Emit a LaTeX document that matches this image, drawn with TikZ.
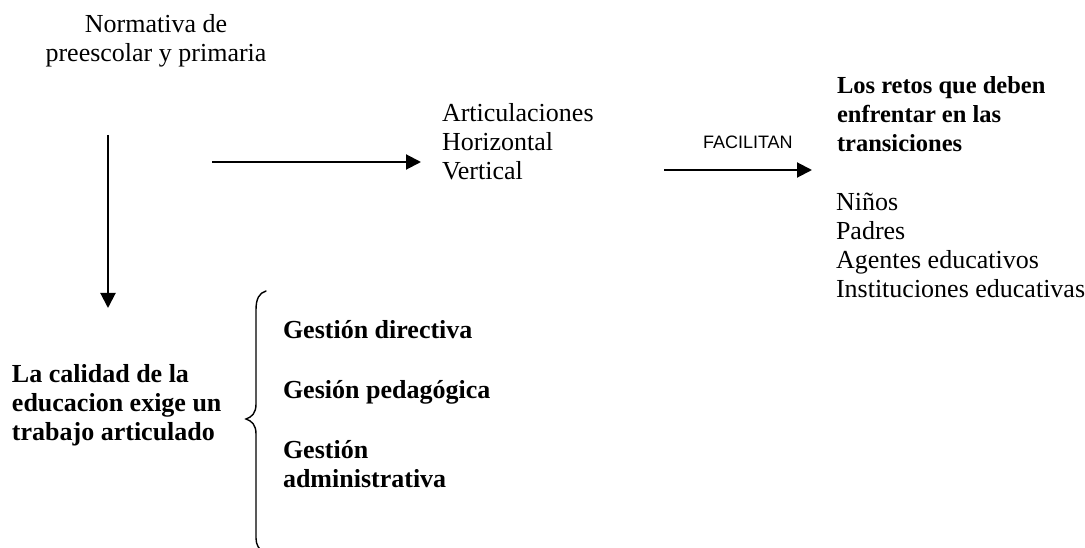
\documentclass[tikz,border=0pt]{standalone}
\usepackage{fontspec}
\setmainfont{Liberation Serif}
\newfontfamily\arialfont{Liberation Sans}
\usetikzlibrary{arrows.meta}
\begin{document}
\begin{tikzpicture}[x=1pt,y=-1pt,
  txt/.style={inner sep=0pt,outer sep=0pt,align=left,anchor=base west,font=\fontsize{26}{29}\selectfont},
  btxt/.style={txt,font=\fontsize{26}{29}\selectfont\bfseries},
  arr/.style={line width=2pt,-{Triangle[length=15pt,width=15pt]}},
  brace/.style={line width=1.4pt,line cap=round}]
\useasboundingbox (0,0) rectangle (1085,548);
% texts (multi-line nodes: base = baseline of last line)
\node[txt,align=center,anchor=base] (norm) at (156,62) {Normativa de\\preescolar y primaria};
\node[txt] (art) at (442,180) {Articulaciones\\Horizontal\\Vertical};
\node[txt,font=\fontsize{18}{21}\arialfont,anchor=base west] (fac) at (703,149) {FACILITAN};
\node[btxt,font=\fontsize{24.5}{29}\selectfont\bfseries] (retos) at (837,152) {Los retos que deben\\enfrentar en las\\transiciones};
\node[txt] (list) at (836,298) {Niños\\Padres\\Agentes educativos\\Instituciones educativas};
\node[btxt] (calidad) at (12,440) {La calidad de la\\educacion exige un\\trabajo articulado};
\node[btxt] (g1) at (283,338) {Gestión directiva};
\node[btxt] (g2) at (283,398) {Gesión pedagógica};
\node[btxt] (g3) at (283,487) {Gestión\\administrativa};
% arrow end points
\coordinate (v1) at (108,135);
\coordinate (v2) at (108,308);
\coordinate (h1) at (212,162);
\coordinate (h2) at (421,162);
\coordinate (f1) at (664,170);
\coordinate (f2) at (812,170);
\draw[arr] (v1) -- (v2);
\draw[arr] (h1) -- (h2);
\draw[arr] (f1) -- (f2);
% brace
\coordinate (btop) at (266,291);
\coordinate (btip) at (246,419);
\coordinate (bbot) at (263,552);
\draw[brace] (btop) .. controls (259,293) and (256,299) .. (256,310) -- (256,404)
  .. controls (256,413) and (252,417) .. (btip)
  .. controls (252,421) and (256,425) .. (256,434) -- (256,538)
  .. controls (256,545) and (259,549) .. (bbot);
\end{tikzpicture}
\end{document}
